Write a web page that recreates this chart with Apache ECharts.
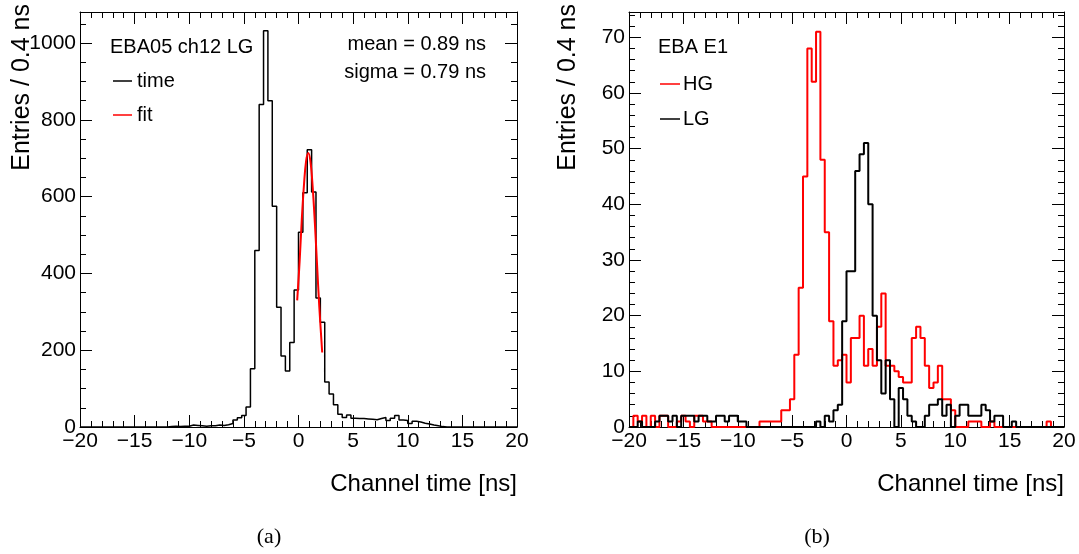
<!DOCTYPE html>
<html><head><meta charset="utf-8">
<script src="https://cdn.jsdelivr.net/npm/echarts@6/dist/echarts.min.js"></script>
<style>html,body{margin:0;padding:0;background:#fff}#c{width:1079px;height:554px}</style>
</head><body><div id="c"></div>
<script>
// ---- binning: 100 bins of 0.4 ns from -20 to 20 ----
const binStart = -20;
const binWidth = 0.4;
const nBins = 100;

// (a) EBA05 ch12 LG, "time" histogram (entries per bin)
const timeLG = [
  0,0,0,0,0,0,0,0,0,0,
  0,0,0,0,0,0,0,0,0,0,
  1,2,1,2,2,5,4,3,2,3,
  3,5,4,6,9,18,24,30,52,152,
  460,840,1032,850,575,312,185,146,220,357,
  507,610,722,612,336,273,117,86,58,33,
  25,31,23,22,22,21,20,19,22,25,
  17,23,30,18,17,9,15,13,10,8,
  5,3,1,0,0,0,0,0,0,0,
  0,0,0,0,0,0,0,0,0,0
];

// (a) fit curve
const fitT = [-0.12, 0.1, 0.3, 0.5, 0.7, 0.9, 1.1, 1.3, 1.5, 1.7, 1.9, 2.17];
const fitV = [330, 430, 540, 630, 694, 714, 690, 624, 530, 422, 315, 194];

// (b) EBA E1, HG and LG histograms
const hgCounts = [
  0,2,1,2,0,2,0,2,2,0,
  0,1,2,1,0,2,2,1,1,0,
  0,0,0,0,0,0,0,0,0,0,
  1,1,1,1,1,3,3,5,13,25,
  45,68,62,71,48,35,19,11,12,13,
  8,16,16,20,11,14,11,18,24,11,
  11,10,9,8,8,16,18,16,11,7,
  8,11,5,5,3,0,0,0,1,1,
  1,0,0,1,0,0,0,0,0,0,
  0,0,0,0,0,0,1,0,0,0
];
const lgCounts = [
  0,0,1,0,0,0,1,2,2,1,
  2,0,2,2,2,1,2,2,1,1,
  2,2,1,2,2,1,1,0,0,0,
  0,0,0,0,0,0,0,0,0,0,
  0,0,0,1,0,2,1,3,4,19,
  28,28,46,49,51,40,20,12,6,12,
  5,0,7,5,2,1,0,0,2,4,
  4,5,2,4,0,2,4,4,2,2,
  2,4,3,1,2,2,0,0,1,0,
  0,0,0,0,0,0,0,0,0,0
];

// axis ranges / ticks
const xRange = [-20, 20], xStep = 5;
const yRangeA = [0, 1081], yStepA = 200;
const yRangeB = [0, 74.55], yStepB = 10;

// texts
const yTitle = 'Entries / 0.4 ns';
const xTitle = 'Channel time [ns]';
const legA = {title: 'EBA05 ch12 LG', s1: 'time', s2: 'fit', mean: 'mean = 0.89 ns', sigma: 'sigma = 0.79 ns'};
const legB = {title: 'EBA E1', s1: 'HG', s2: 'LG'};
const captions = ['(a)', '(b)'];

function histData(counts) {
  const d = counts.map((v, i) => [binStart + binWidth * i, v]);
  d.push([binStart + binWidth * nBins, counts[nBins - 1]]);
  return d;
}
const SANS = 'Liberation Sans, Arial, Helvetica, sans-serif';
const fmt = v => String(v).replace('-', '\u2212');

function xAx(grid, pos, lab) {
  return {
    type: 'value', gridIndex: grid, position: pos, min: xRange[0], max: xRange[1], interval: xStep,
    axisLine: {show: true, onZero: false, lineStyle: {color: '#000', width: 1}},
    axisTick: {show: true, inside: true, length: 12, lineStyle: {color: '#000', width: 1}},
    minorTick: {show: true, splitNumber: 5, length: 6, lineStyle: {color: '#000', width: 1}},
    splitLine: {show: false}, minorSplitLine: {show: false},
    axisLabel: {show: lab, margin: 4, fontSize: 21, color: '#000', fontFamily: SANS, formatter: fmt}
  };
}
function yAx(grid, pos, lab, range, step, minor) {
  return {
    type: 'value', gridIndex: grid, position: pos, min: range[0], max: range[1], interval: step,
    axisLine: {show: true, onZero: false, lineStyle: {color: '#000', width: 1}},
    axisTick: {show: true, inside: true, length: 12, lineStyle: {color: '#000', width: 1}},
    minorTick: {show: true, splitNumber: minor, length: 6, lineStyle: {color: '#000', width: 1}},
    splitLine: {show: false}, minorSplitLine: {show: false},
    axisLabel: {show: lab, margin: 4, fontSize: 21, color: '#000', fontFamily: SANS, showMaxLabel: false, formatter: fmt}
  };
}

function txt(x, y, s, opts) {
  return Object.assign({type: 'text', x: x, y: y, silent: true,
    style: Object.assign({text: s, fill: '#000', font: '20px ' + SANS, textAlign: 'left', textVerticalAlign: 'middle'}, opts || {})});
}
function seg(x1, x2, y, color) {
  return {type: 'line', silent: true, shape: {x1: x1, y1: y, x2: x2, y2: y}, style: {stroke: color, lineWidth: 1.5}};
}

const chart = echarts.init(document.getElementById('c'), null, {renderer: 'canvas'});
chart.setOption({
  animation: false,
  backgroundColor: '#fff',
  grid: [
    {left: 80, right: 562, top: 12, bottom: 127},
    {left: 629, right: 15, top: 12, bottom: 127}
  ],
  xAxis: [xAx(0, 'bottom', true), xAx(0, 'top', false), xAx(1, 'bottom', true), xAx(1, 'top', false)],
  yAxis: [
    yAx(0, 'left', true, yRangeA, yStepA, 4), yAx(0, 'right', false, yRangeA, yStepA, 4),
    yAx(1, 'left', true, yRangeB, yStepB, 5), yAx(1, 'right', false, yRangeB, yStepB, 5)
  ],
  series: [
    {name: legA.s1, type: 'line', xAxisIndex: 0, yAxisIndex: 0, step: 'end', symbol: 'none',
     data: histData(timeLG), lineStyle: {color: '#000', width: 1.5}},
    {name: legA.s2, type: 'line', xAxisIndex: 0, yAxisIndex: 0, smooth: 0.4, symbol: 'none',
     data: fitT.map((t, i) => [t, fitV[i]]), lineStyle: {color: '#ff0000', width: 2}},
    {name: legB.s1, type: 'line', xAxisIndex: 2, yAxisIndex: 2, step: 'end', symbol: 'none',
     data: histData(hgCounts), lineStyle: {color: '#ff0000', width: 2}},
    {name: legB.s2, type: 'line', xAxisIndex: 2, yAxisIndex: 2, step: 'end', symbol: 'none',
     data: histData(lgCounts), lineStyle: {color: '#000', width: 2}}
  ],
  graphic: [
    // axis titles
    txt(517, 484, xTitle, {textAlign: 'right', font: '24px ' + SANS}),
    txt(1064, 484, xTitle, {textAlign: 'right', font: '24px ' + SANS}),
    Object.assign(txt(22, 4, yTitle, {textAlign: 'right', font: '25px ' + SANS}), {rotation: Math.PI / 2}),
    Object.assign(txt(568, 4, yTitle, {textAlign: 'right', font: '25px ' + SANS}), {rotation: Math.PI / 2}),
    // legend (a)
    txt(110, 47, legA.title),
    seg(113, 132, 81, '#000'), txt(137, 81, legA.s1),
    seg(113, 132, 115, '#ff0000'), txt(137, 115, legA.s2),
    txt(486, 44, legA.mean, {textAlign: 'right'}),
    txt(486, 72, legA.sigma, {textAlign: 'right'}),
    // legend (b)
    txt(658, 47, legB.title),
    seg(660, 680, 84, '#ff0000'), txt(683, 84, legB.s1),
    seg(660, 680, 119, '#000'), txt(683, 119, legB.s2),
    // captions
    txt(269, 537, captions[0], {textAlign: 'center', font: '22px Liberation Serif, DejaVu Serif, serif'}),
    txt(817, 537, captions[1], {textAlign: 'center', font: '22px Liberation Serif, DejaVu Serif, serif'})
  ]
});
</script></body></html>
